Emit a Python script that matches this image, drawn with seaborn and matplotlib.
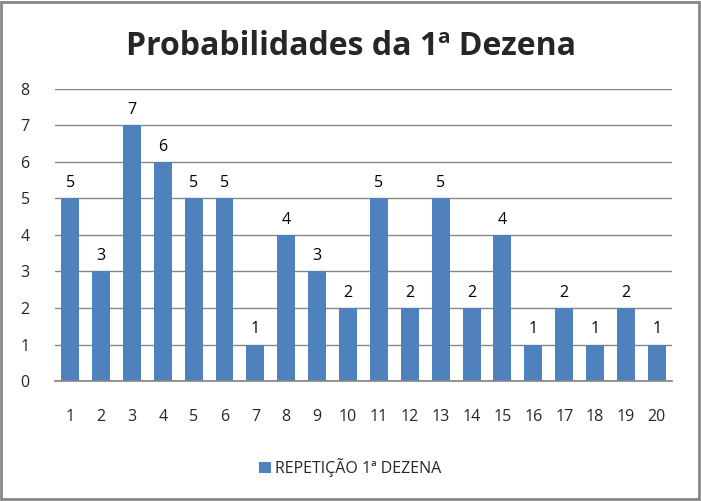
import matplotlib
matplotlib.use("Agg")
import matplotlib.pyplot as plt
import seaborn as sns
import pandas as pd

# Data
dezenas = [str(i) for i in range(1, 21)]
repeticoes = [5, 3, 7, 6, 5, 5, 1, 4, 3, 2, 5, 2, 5, 2, 4, 1, 2, 1, 2, 1]
serie = 'REPETIÇÃO 1ª DEZENA'

df = pd.DataFrame({'dezena': dezenas, 'valor': repeticoes})

sns.set_theme(style="white")
plt.rcParams['font.family'] = ['Open Sans', 'DejaVu Sans']

fig = plt.figure(figsize=(7.01, 5.01), dpi=100)
ax = fig.add_axes([0.078, 0.2395, 0.881, 0.583])

sns.barplot(data=df, x='dezena', y='valor', color='#4F81BD', width=0.58,
            saturation=1, linewidth=0, ax=ax, label=serie)

# Value labels on top of bars
for i, v in enumerate(repeticoes):
    ax.text(i, v + 0.2, str(v), ha='center', va='bottom', fontsize=11.5, color='black')

ax.set_ylim(0, 8)
ax.set_xlim(-0.5, 19.5)
ax.set_yticks(range(0, 9))
ax.yaxis.grid(True, color='#868686', linewidth=1)
ax.set_axisbelow(True)
for s in ['top', 'right', 'left']:
    ax.spines[s].set_visible(False)
ax.spines['bottom'].set_color('#868686')
ax.tick_params(axis='x', length=0, pad=20, labelsize=11.5)
ax.tick_params(axis='y', length=0, pad=18, labelsize=11.5)
ax.set_xlabel('')
ax.set_ylabel('')

fig.suptitle('Probabilidades da 1ª Dezena', fontsize=23, fontweight='bold', y=0.94)

ax.legend(loc='center', bbox_to_anchor=(0.5, 0.067), bbox_transform=fig.transFigure,
          frameon=False, fontsize=11.5, handlelength=0.7, handleheight=0.7,
          handletextpad=0.3)

# Outer gray border
fig.patches.append(plt.Rectangle((0.002, 0.003), 0.995, 0.994, transform=fig.transFigure,
                                 fill=False, edgecolor='#868686', linewidth=2))

fig.savefig('out.png', dpi=100)
